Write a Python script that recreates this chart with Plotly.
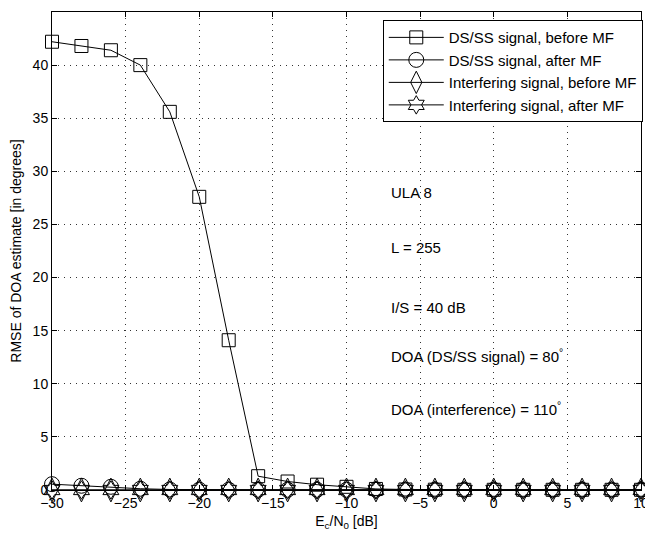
import plotly.graph_objects as go

ecn0 = [-30, -28, -26, -24, -22, -20, -18, -16, -14, -12, -10, -8, -6, -4, -2, 0, 2, 4, 6, 8, 10]
ds_before = [42.2, 41.8, 41.4, 40.0, 35.6, 27.6, 14.1, 1.3, 0.8, 0.5, 0.3, 0.1, 0.05, 0.03, 0.02, 0.02, 0.02, 0.02, 0.02, 0.02, 0.02]
ds_after = [0.55, 0.4, 0.3, 0.12, 0.05, 0.03, 0.02, 0.02, 0.02, 0.02, 0.02, 0.02, 0.02, 0.02, 0.02, 0.02, 0.02, 0.02, 0.02, 0.02, 0.02]
int_before = [0.0] * 21
int_after = [0.0] * 21
x_ticks = [-30, -25, -20, -15, -10, -5, 0, 5, 10]
x_ticklabels = ["\u221230", "\u221225", "\u221220", "\u221215", "\u221210", "\u22125", "0", "5", "10"]

series = [
    ("DS/SS signal, before MF", ds_before, "square-open", 13),
    ("DS/SS signal, after MF", ds_after, "circle-open", 15),
    ("Interfering signal, before MF", int_before, "diamond-tall-open", 17),
    ("Interfering signal, after MF", int_after, "hexagram-open", 14),
]

FONT = "Liberation Sans, Arial, sans-serif"

fig = go.Figure()
for name, ys, sym, sz in series:
    fig.add_trace(go.Scatter(
        x=ecn0, y=ys, name=name, mode="lines+markers",
        line=dict(color="black", width=1),
        marker=dict(symbol=sym, size=sz, color="black", line=dict(color="black", width=1)),
        cliponaxis=False,
    ))

notes = [
    (28.0, "ULA 8"),
    (22.8, "L = 255"),
    (17.2, "I/S = 40 dB"),
    (12.7, "DOA (DS/SS signal) = 80<sup>°</sup>"),
    (7.7, "DOA (interference) = 110<sup>°</sup>"),
]
for yv, txt in notes:
    fig.add_annotation(x=-7.1, y=yv, xref="x", yref="y", text=txt, showarrow=False,
                       xanchor="left", yanchor="middle",
                       font=dict(family=FONT, size=15, color="black"))

axis_common = dict(
    showline=True, linecolor="black", linewidth=1, mirror="ticks",
    ticks="inside", ticklen=5, tickcolor="black",
    showgrid=True, gridcolor="#333333", griddash="1px,5px", gridwidth=1,
    zeroline=False, automargin=False,
    tickfont=dict(family=FONT, size=14, color="black"),
)
fig.update_xaxes(range=[-30, 10], tickvals=x_ticks, ticktext=x_ticklabels,
                 title=dict(text="E<sub>c</sub>/N<sub>0</sub> [dB]", standoff=6,
                            font=dict(family=FONT, size=14, color="black")),
                 **axis_common)
fig.update_yaxes(range=[0, 45], dtick=5,
                 title=dict(text="RMSE of DOA estimate [in degrees]", standoff=10,
                            font=dict(family=FONT, size=14, color="black")),
                 **axis_common)

fig.update_layout(
    width=645, height=530,
    margin=dict(l=44, r=12, t=4, b=48),
    plot_bgcolor="white", paper_bgcolor="white",
    legend=dict(x=1.003, y=0.983, xanchor="right", yanchor="top",
                bordercolor="black", borderwidth=1, bgcolor="white",
                font=dict(family=FONT, size=15, color="black"),
                tracegroupgap=0, itemwidth=55),
    showlegend=True,
)

fig.write_html("out.html")
